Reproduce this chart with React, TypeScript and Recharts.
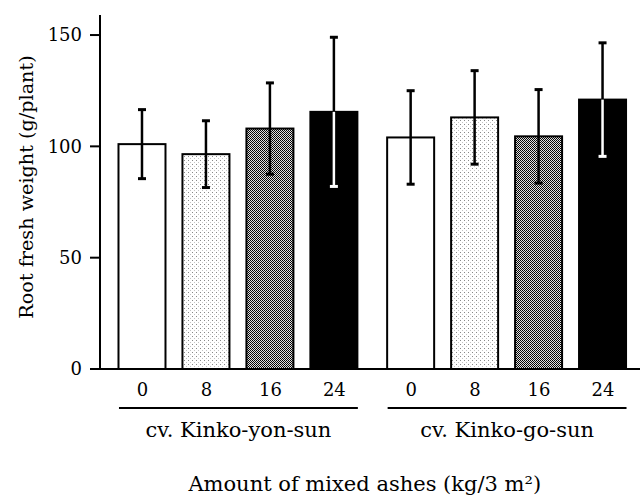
import { BarChart, Bar, XAxis, YAxis } from 'recharts'

const doses = ['0', '8', '16', '24']
const cultivars = ['cv. Kinko-yon-sun', 'cv. Kinko-go-sun']
const yonSunMeans = [101, 96.5, 108, 115.5]
const yonSunErrors = [15.5, 15, 20.5, 33.5]
const goSunMeans = [104, 113, 104.5, 121]
const goSunErrors = [21, 21, 21, 25.5]
const yTicks = [0, 50, 100, 150]

const FONT = '"DejaVu Serif", "Liberation Serif", serif'
const FILLS = ['#ffffff', 'url(#lightDots)', 'url(#darkDots)', '#000000']

// layout
const GROUP_GAP = 0.2
const PAD = 0.664
const CHART_W = 660
const LEFT = 100
const RIGHT = 14.5
const BAR_W = 47

const means = [yonSunMeans, goSunMeans]
const errors = [yonSunErrors, goSunErrors]

const data = cultivars.flatMap((_, g) =>
  doses.map((dose, d) => ({
    pos: g * (doses.length + GROUP_GAP) + d,
    dose,
    doseIndex: d,
    value: means[g][d],
    err: errors[g][d],
  }))
)

const lastPos = data[data.length - 1].pos
const xDomain = [-PAD, lastPos + PAD]
const pxPerUnit = (CHART_W - LEFT - RIGHT) / (xDomain[1] - xDomain[0])
const groupTicks = cultivars.map((_, g) => g * (doses.length + GROUP_GAP) + (doses.length - 1) / 2)

const BarWithError = (props: any) => {
  const { x, y, width, height, payload } = props
  const fill = FILLS[payload.doseIndex]
  const isBlack = payload.doseIndex === doses.length - 1
  const errPx = (payload.err * height) / payload.value
  const cx = x + width / 2
  const lowColor = isBlack ? '#fff' : '#000'
  return (
    <g>
      <rect x={x} y={y} width={width} height={height} fill={fill} stroke="#000" strokeWidth={2} />
      <line x1={cx} x2={cx} y1={y} y2={y - errPx} stroke="#000" strokeWidth={2.5} />
      <line x1={cx - 4} x2={cx + 4} y1={y - errPx} y2={y - errPx} stroke="#000" strokeWidth={3} />
      <line x1={cx} x2={cx} y1={y} y2={y + errPx} stroke={lowColor} strokeWidth={2.5} />
      <line x1={cx - 4} x2={cx + 4} y1={y + errPx} y2={y + errPx} stroke={lowColor} strokeWidth={3} />
    </g>
  )
}

const DoseTick = (props: any) => {
  const { x, y, payload } = props
  const row = data.find(r => r.pos === payload.value)
  return (
    <text x={x} y={y + 27} textAnchor="middle" fontFamily={FONT} fontSize={18} fill="#000">
      {row ? row.dose : ''}
    </text>
  )
}

const GroupTick = (props: any) => {
  const { x, y, index } = props
  const half = ((doses.length - 1) / 2) * pxPerUnit + BAR_W / 2
  return (
    <g>
      <line x1={x - half} x2={x + half} y1={y + 11} y2={y + 11} stroke="#000" strokeWidth={2} />
      <text x={x} y={y + 40} textAnchor="middle" fontFamily={FONT} fontSize={21} fill="#000">
        {cultivars[index]}
      </text>
    </g>
  )
}

export default function App() {
  return (
    <div style={{ position: 'absolute', left: 0, top: 0, width: 640, height: 496, overflow: 'hidden', background: '#fff' }}>
      <svg width={0} height={0} style={{ position: 'absolute' }}>
        <defs>
          <pattern id="lightDots" width={4} height={4} patternUnits="userSpaceOnUse">
            <rect width={4} height={4} fill="#fff" />
            <rect x={0} y={0} width={1} height={1} fill="#888" />
            <rect x={2} y={2} width={1} height={1} fill="#c4c4c4" />
          </pattern>
          <pattern id="darkDots" width={2} height={2} patternUnits="userSpaceOnUse">
            <rect width={2} height={2} fill="#e0e0e0" />
            <rect x={0} y={0} width={1} height={1} fill="#000" />
            <rect x={1} y={1} width={1} height={1} fill="#111" />
          </pattern>
        </defs>
      </svg>
      <BarChart
        width={CHART_W}
        height={496}
        data={data}
        margin={{ top: 15, right: RIGHT, bottom: 0, left: 0 }}
      >
        <XAxis
          xAxisId="top"
          orientation="top"
          dataKey="pos"
          type="number"
          domain={xDomain}
          allowDataOverflow
          height={0}
          tick={false}
          tickLine={false}
          axisLine={{ stroke: '#000', strokeWidth: 2 }}
        />
        <XAxis
          dataKey="pos"
          type="number"
          domain={xDomain}
          allowDataOverflow
          ticks={data.map(r => r.pos)}
          interval={0}
          height={28}
          tickSize={0}
          tickMargin={0}
          tickLine={false}
          axisLine={{ stroke: '#000', strokeWidth: 2 }}
          tick={<DoseTick />}
        />
        <XAxis
          xAxisId="group"
          dataKey="pos"
          type="number"
          domain={xDomain}
          allowDataOverflow
          ticks={groupTicks}
          interval={0}
          height={99}
          tickSize={0}
          tickMargin={0}
          tickLine={false}
          axisLine={false}
          tick={<GroupTick />}
          label={{
            value: 'Amount of mixed ashes (kg/3 m²)',
            position: 'insideBottom',
            offset: 5,
            dx: -8,
            style: { fontFamily: FONT, fontSize: 21, fill: '#000' },
          }}
        />
        <YAxis
          width={LEFT}
          domain={[0, 159]}
          ticks={yTicks}
          allowDataOverflow
          tickSize={10}
          tickMargin={8}
          tickLine={{ stroke: '#000', strokeWidth: 2 }}
          axisLine={{ stroke: '#000', strokeWidth: 2 }}
          tick={{ fontFamily: FONT, fontSize: 18, fill: '#000' }}
          label={{
            value: 'Root fresh weight (g/plant)',
            angle: -90,
            position: 'center',
            dx: -24,
            dy: -5,
            style: { fontFamily: FONT, fontSize: 19.2, fill: '#000' },
          }}
        />
        <Bar dataKey="value" barSize={BAR_W} shape={<BarWithError />} isAnimationActive={false} />
      </BarChart>
    </div>
  )
}
